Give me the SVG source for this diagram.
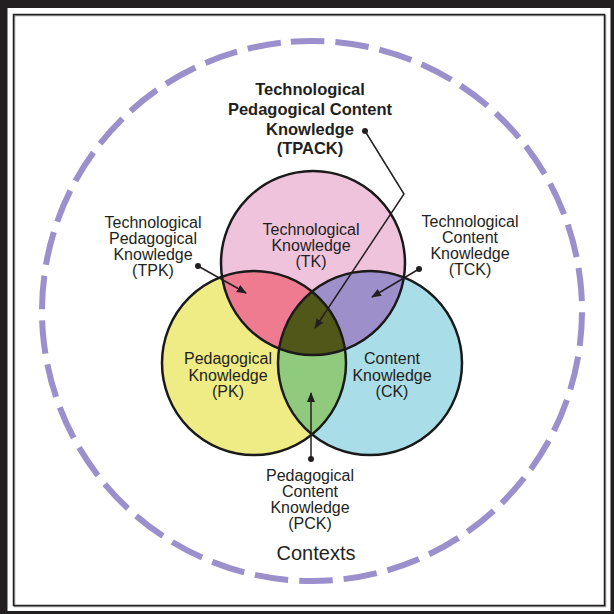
<svg xmlns="http://www.w3.org/2000/svg" width="614" height="614" viewBox="0 0 614 614">
<style>
.t{font-family:"Liberation Sans",Arial,sans-serif;font-size:16px;fill:#231f20;text-anchor:middle}
.b{font-weight:bold;font-size:16.5px}
.c{stroke:#1a1a1a;stroke-width:2.5;fill:none}
.ln{stroke:#231f20;stroke-width:1.5;fill:none}
</style>
<defs>
<marker id="ah" markerWidth="10" markerHeight="10" refX="9" refY="5" orient="auto" markerUnits="userSpaceOnUse">
<path d="M0,1 L10,5 L0,9 Z" fill="#231f20"/>
</marker>
<clipPath id="cT"><circle cx="313" cy="263" r="92"/></clipPath>
<clipPath id="cP"><circle cx="254" cy="363" r="92"/></clipPath>
</defs>
<rect x="0" y="0" width="614" height="614" fill="#231f20"/>
<rect x="7.5" y="8" width="603" height="603" fill="#ffffff"/>
<rect x="14.5" y="15.5" width="591" height="591" fill="none" stroke="#9a9a9a" stroke-width="1.5"/>
<rect x="13.5" y="14.5" width="591" height="591" fill="none" stroke="#231f20" stroke-width="1.5"/>
<g id="contexts">
<circle cx="312" cy="311" r="270" fill="none" stroke="#9b8fcc" stroke-width="6" stroke-dasharray="33.6 11.05" transform="rotate(-94.5 312 311)"/>
<text class="t" x="316" y="560" style="font-size:20px">Contexts</text>
</g>
<g id="TK"><circle cx="313" cy="263" r="92" fill="#f0c3dd"/></g>
<g id="PK"><circle cx="254" cy="363" r="92" fill="#efeb85"/></g>
<g id="CK"><circle cx="370" cy="363" r="92" fill="#a9dde7"/></g>
<g id="TPK"><circle cx="254" cy="363" r="92" fill="#ee7b8f" clip-path="url(#cT)"/></g>
<g id="TCK"><circle cx="370" cy="363" r="92" fill="#9d8fca" clip-path="url(#cT)"/></g>
<g id="PCK"><circle cx="370" cy="363" r="92" fill="#8fca7d" clip-path="url(#cP)"/></g>
<g id="TPACK"><g clip-path="url(#cT)"><circle cx="370" cy="363" r="92" fill="#515619" clip-path="url(#cP)"/></g></g>
<g id="outlines">
<circle class="c" cx="313" cy="263" r="92"/>
<circle class="c" cx="254" cy="363" r="92"/>
<circle class="c" cx="370" cy="363" r="92"/>
</g>
<g id="labels">
<text class="t" x="311" y="235">Technological</text>
<text class="t" x="311" y="251">Knowledge</text>
<text class="t" x="311" y="267">(TK)</text>
<text class="t" x="228" y="364">Pedagogical</text>
<text class="t" x="228" y="380.5">Knowledge</text>
<text class="t" x="228" y="397">(PK)</text>
<text class="t" x="392" y="364">Content</text>
<text class="t" x="392" y="380.5">Knowledge</text>
<text class="t" x="392" y="397">(CK)</text>
<text class="t" x="153" y="228">Technological</text>
<text class="t" x="153" y="244">Pedagogical</text>
<text class="t" x="153" y="260">Knowledge</text>
<text class="t" x="153" y="276">(TPK)</text>
<text class="t" x="470" y="227">Technological</text>
<text class="t" x="470" y="243">Content</text>
<text class="t" x="470" y="259">Knowledge</text>
<text class="t" x="470" y="275">(TCK)</text>
<text class="t" x="310" y="481">Pedagogical</text>
<text class="t" x="310" y="497">Content</text>
<text class="t" x="310" y="513">Knowledge</text>
<text class="t" x="310" y="529">(PCK)</text>
<text class="t b" x="310" y="95">Technological</text>
<text class="t b" x="310" y="115">Pedagogical Content</text>
<text class="t b" x="310" y="134.5">Knowledge</text>
<text class="t b" x="310" y="154">(TPACK)</text>
</g>
<g id="connectors">
<circle cx="198" cy="266" r="3" fill="#231f20"/>
<line class="ln" x1="198" y1="266" x2="246" y2="293" marker-end="url(#ah)"/>
<circle cx="419" cy="269" r="3" fill="#231f20"/>
<line class="ln" x1="419" y1="269" x2="372" y2="297" marker-end="url(#ah)"/>
<circle cx="311" cy="459" r="3" fill="#231f20"/>
<line class="ln" x1="311" y1="459" x2="311" y2="393" marker-end="url(#ah)"/>
<circle cx="365" cy="131" r="3" fill="#231f20"/>
<polyline class="ln" points="365,131 404,194 315,328" marker-end="url(#ah)"/>
</g>
</svg>
